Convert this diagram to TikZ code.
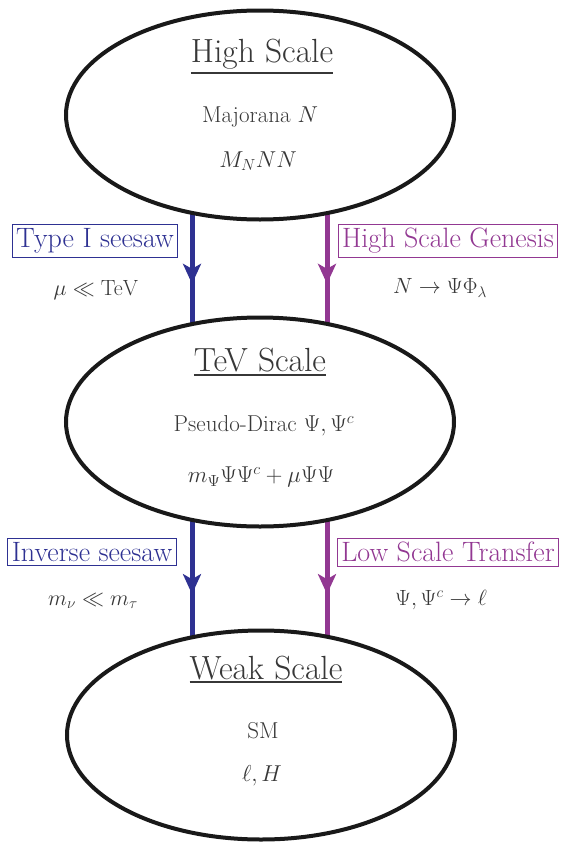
\RequirePackage{fix-cm}
\documentclass[tikz,border=0pt]{standalone}
\usetikzlibrary{arrows.meta,decorations.markings,shapes.geometric,backgrounds}
\definecolor{seesawblue}{RGB}{46,49,146}
\definecolor{genpurple}{RGB}{146,56,146}
\definecolor{txtgray}{RGB}{55,55,55}
\newcommand{\scaleul}[2][3.2pt]{\vtop{\hbox{#2}\kern#1\hrule height 2pt}}
\tikzset{
  level/.style={draw=black!90,fill=white,line width=4pt,shape=ellipse,minimum width=388pt,minimum height=209pt},
  leveltitle/.style={text=txtgray,anchor=base,font=\fontsize{33.5}{38}\selectfont},
  body/.style={text=txtgray,font=\fontsize{23}{26}\selectfont},
  sidenote/.style={text=txtgray,font=\fontsize{22}{26}\selectfont},
  tag/.style={draw,line width=0.9pt,inner sep=4pt,font=\fontsize{28}{32}\selectfont},
  flow/.style={line width=5pt,postaction={decorate},decoration={markings,
    mark=at position 0.55 with {\arrow{Stealth[length=20pt,width=18pt,inset=5pt]}}}}
}
\begin{document}
\begin{tikzpicture}[x=1pt,y=-1pt]
\useasboundingbox (0,0) rectangle (560,846);
\draw (260,115) node[level] (hs) {};
\draw (260,422) node[level] (tev) {};
\draw (261,735) node[level] (wk) {};

\draw (262,62) node[leveltitle] (hstitle) {\scaleul{High Scale}};
\draw (260,117) node[body] (hsfield) {Majorana $N$};
\draw (258,161) node[body] (hsterm) {$M_N NN$};
\draw (260,371.7) node[leveltitle] (tevtitle) {\scaleul[1.3pt]{TeV Scale}};
\draw (264,426) node[body] (tevfield) {Pseudo-Dirac $\Psi,\Psi^c$};
\draw (261,477) node[body] (tevterm) {$m_\Psi\Psi\Psi^c+\mu\Psi\Psi$};
\draw (266,679.5) node[leveltitle] (wktitle) {\scaleul[1.3pt]{Weak Scale}};
\draw (263,731) node[body] (wkfield) {SM};
\draw (262,776) node[body] (wkterm) {$\ell,H$};

\begin{scope}[on background layer]
% seesaw side
\draw[flow,seesawblue] ([xshift=-68pt]hs.center) -- ([xshift=-68pt]tev.center);
\draw[flow,seesawblue] ([xshift=-68pt]tev.center) -- ([xshift=-69pt]wk.center);
% genesis side
\draw[flow,genpurple] ([xshift=67pt]hs.center) -- ([xshift=67pt]tev.center);
\draw[flow,genpurple] ([xshift=67pt]tev.center) -- ([xshift=66pt]wk.center);
\end{scope}

\draw (95,241) node[tag,seesawblue] (typeone) {Type I seesaw};
\draw (96,290) node[sidenote] (mucond) {$\mu\ll\mathrm{TeV}$};
\draw (92,552) node[tag,seesawblue] (inverse) {Inverse seesaw};
\draw (93,601) node[sidenote] (mnucond) {$m_\nu\ll m_\tau$};

\draw (448,241) node[tag,genpurple] (genesis) {High Scale Genesis};
\draw (440,288) node[sidenote] (ndecay) {$N\to\Psi\Phi_\lambda$};
\draw (448,552) node[tag,genpurple] (transfer) {Low Scale Transfer};
\draw (441,600) node[sidenote] (psidecay) {$\Psi,\Psi^c\to\ell$};
\end{tikzpicture}
\end{document}
